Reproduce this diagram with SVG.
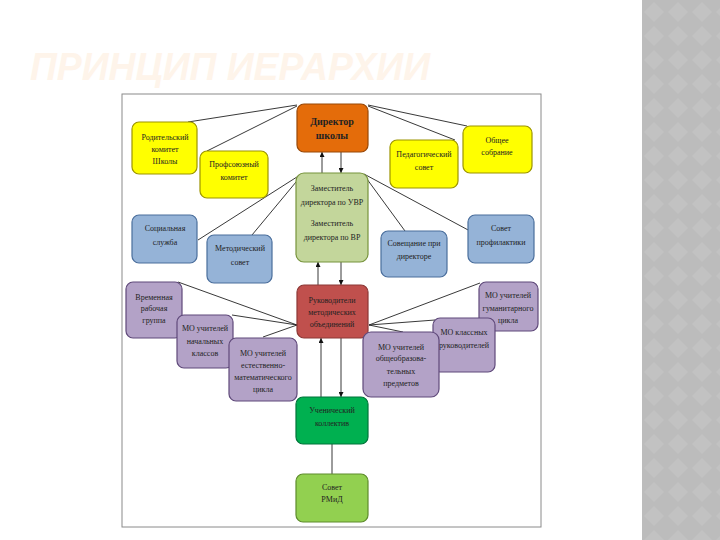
<svg xmlns="http://www.w3.org/2000/svg" width="720" height="540" viewBox="0 0 720 540">
<style>
text{font-family:"Liberation Serif","Times New Roman",serif;font-size:8px;fill:#222;text-anchor:middle}
.b{stroke-width:1.2}
.y{fill:#FFFF00;stroke:#9C9400}
.o{fill:#E46C0A;stroke:#984807}
.g{fill:#C3D69B;stroke:#77933C}
.bl{fill:#95B3D7;stroke:#4A6E9C}
.r{fill:#C0504D;stroke:#8C3836}
.p{fill:#B3A2C7;stroke:#5F497A}
.dg{fill:#00B050;stroke:#00753A}
.lg{fill:#92D050;stroke:#5E8C2C}
.c line{stroke:#222;stroke-width:0.9}
.t{font-family:"Liberation Sans",Arial,sans-serif;font-size:38px;font-weight:bold;font-style:italic;fill:#FEF4EA;text-anchor:start}
</style>
<defs>
<marker id="ah" viewBox="0 0 10 10" refX="10" refY="5" markerWidth="5" markerHeight="5" orient="auto" markerUnits="userSpaceOnUse"><path d="M0,0L10,5L0,10z" fill="#111"/></marker>
<pattern id="dm" width="24" height="24" patternUnits="userSpaceOnUse" x="642" y="0">
<rect width="24" height="24" fill="#BCBCBC"/>
<path d="M12,2L22,12L12,22L2,12z" fill="#C2C2C2"/>
</pattern>
</defs>
<rect width="720" height="540" fill="#fff"/>
<rect x="642" y="0" width="78" height="540" fill="url(#dm)"/>
<text class="t" x="30" y="80" textLength="400" lengthAdjust="spacingAndGlyphs">ПРИНЦИП ИЕРАРХИИ</text>
<rect x="122" y="94" width="419" height="433" fill="#fff" stroke="#8a8a8a" stroke-width="1"/>

<g id="connectors" class="c">
<line x1="297" y1="105" x2="188" y2="122"/>
<line x1="297" y1="106" x2="207" y2="151"/>
<line x1="368" y1="105" x2="467" y2="126"/>
<line x1="368" y1="106" x2="455" y2="140"/>
<line x1="300" y1="175" x2="198" y2="240"/>
<line x1="301" y1="176" x2="252" y2="235"/>
<line x1="364" y1="174" x2="470" y2="231"/>
<line x1="364" y1="175" x2="405" y2="231"/>
<line x1="297" y1="325" x2="178" y2="282"/>
<line x1="297" y1="325" x2="232" y2="315"/>
<line x1="297" y1="325" x2="263" y2="337"/>
<line x1="369" y1="325" x2="480" y2="283"/>
<line x1="369" y1="325" x2="435" y2="320"/>
<line x1="369" y1="325" x2="403" y2="332"/>
<line x1="322" y1="173" x2="322" y2="152" marker-end="url(#ah)"/>
<line x1="341" y1="152" x2="341" y2="173" marker-end="url(#ah)"/>
<line x1="318" y1="285" x2="318" y2="262" marker-end="url(#ah)"/>
<line x1="341" y1="262" x2="341" y2="285" marker-end="url(#ah)"/>
<line x1="321" y1="397" x2="321" y2="338" marker-end="url(#ah)"/>
<line x1="341" y1="338" x2="341" y2="397" marker-end="url(#ah)"/>
<line x1="332" y1="444" x2="332" y2="474"/>
</g>

<g id="director"><rect class="o b" x="297" y="104" width="71" height="48" rx="7"/>
<text x="332" y="125" style="font-weight:bold;font-size:10px">Директор</text><text x="332" y="139" style="font-weight:bold;font-size:10px">школы</text></g>
<g id="rodit"><rect class="y b" x="132" y="122" width="65" height="52" rx="7"/>
<text x="165" y="140">Родительский</text><text x="165" y="152">комитет</text><text x="165" y="164">Школы</text></g>
<g id="profsoyuz"><rect class="y b" x="200" y="151" width="68" height="47" rx="7"/>
<text x="234" y="167">Профсоюзный</text><text x="234" y="180">комитет</text></g>
<g id="pedsovet"><rect class="y b" x="390" y="140" width="68" height="48" rx="7"/>
<text x="424" y="157">Педагогический</text><text x="424" y="170">совет</text></g>
<g id="obshee"><rect class="y b" x="463" y="126" width="69" height="47" rx="7"/>
<text x="497" y="143">Общее</text><text x="497" y="155">собрание</text></g>
<g id="zam"><rect class="g b" x="296" y="173" width="72" height="89" rx="8"/>
<text x="332" y="191">Заместитель</text><text x="332" y="205">директора по УВР</text><text x="332" y="226">Заместитель</text><text x="332" y="240">директора по ВР</text></g>
<g id="social"><rect class="bl b" x="132" y="215" width="65" height="48" rx="7"/>
<text x="165" y="231">Социальная</text><text x="165" y="245">служба</text></g>
<g id="metodsovet"><rect class="bl b" x="207" y="235" width="65" height="48" rx="7"/>
<text x="240" y="251">Методический</text><text x="240" y="265">совет</text></g>
<g id="soveshanie"><rect class="bl b" x="381" y="231" width="66" height="46" rx="7"/>
<text x="414" y="246">Совещание при</text><text x="414" y="259">директоре</text></g>
<g id="profilaktika"><rect class="bl b" x="468" y="215" width="66" height="48" rx="7"/>
<text x="501" y="231">Совет</text><text x="501" y="245">профилактики</text></g>
<g id="rukovod"><rect class="r b" x="297" y="285" width="71" height="53" rx="7"/>
<text x="332" y="303">Руководители</text><text x="332" y="315">методических</text><text x="332" y="327">объединений</text></g>
<g id="vremennaya"><rect class="p b" x="126" y="282" width="56" height="56" rx="7"/>
<text x="154" y="300">Временная</text><text x="154" y="311">рабочая</text><text x="154" y="323">группа</text></g>
<g id="mo-nach"><rect class="p b" x="177" y="315" width="56" height="53" rx="7"/>
<text x="205" y="331">МО учителей</text><text x="205" y="344">начальных</text><text x="205" y="356">классов</text></g>
<g id="mo-estmat"><rect class="p b" x="229" y="338" width="68" height="63" rx="7"/>
<text x="263" y="356">МО учителей</text><text x="263" y="368">естественно-</text><text x="263" y="380">математического</text><text x="263" y="392">цикла</text></g>
<g id="mo-gum"><rect class="p b" x="479" y="282" width="59" height="49" rx="7"/>
<text x="508" y="298">МО учителей</text><text x="508" y="311">гуманитарного</text><text x="508" y="323">цикла</text></g>
<g id="mo-klass"><rect class="p b" x="433" y="318" width="62" height="54" rx="7"/>
<text x="464" y="335">МО классных</text><text x="464" y="348">руководителей</text></g>
<g id="mo-obsh"><rect class="p b" x="363" y="332" width="76" height="65" rx="8"/>
<text x="401" y="350">МО учителей</text><text x="401" y="361">общеобразова-</text><text x="401" y="374">тельных</text><text x="401" y="386">предметов</text></g>
<g id="uchenich"><rect class="dg b" x="296" y="397" width="72" height="47" rx="7"/>
<text x="332" y="413">Ученический</text><text x="332" y="426">коллектив</text></g>
<g id="rmid"><rect class="lg b" x="296" y="474" width="72" height="48" rx="7"/>
<text x="332" y="490">Совет</text><text x="332" y="502">РМиД</text></g>
</svg>
